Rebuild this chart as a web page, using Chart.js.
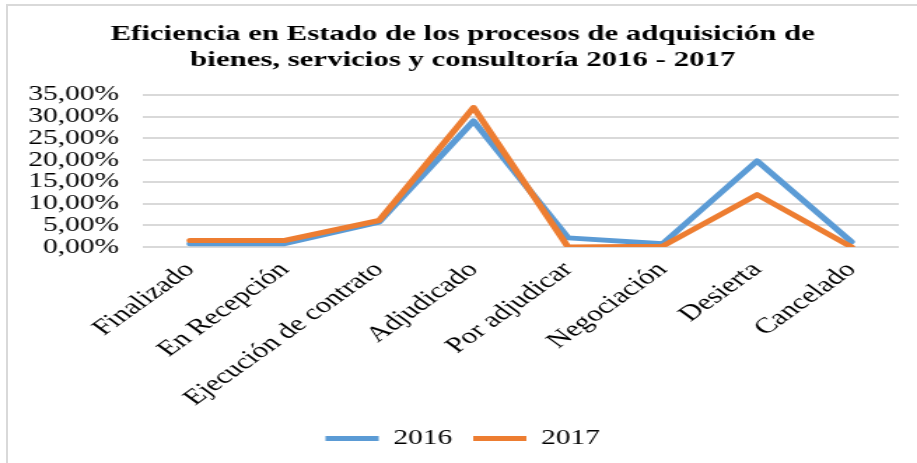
<!DOCTYPE html>
<html lang="es">

<head>
    <meta charset="UTF-8">
    <title>Eficiencia en Estado de los procesos</title>
    <script src="https://cdn.jsdelivr.net/npm/chart.js"></script>
    <style>
        body {
            margin: 0;
            padding: 0;
            background: #ffffff;
        }

        .frame {
            position: relative;
            width: 917px;
            height: 463px;
            overflow: hidden;
        }

        /* light grey edge of the original picture (left and top only) */
        .edge {
            position: absolute;
            left: 6px;
            top: 4px;
            right: -10px;
            bottom: -10px;
            border-left: 2px solid #d9d9d9;
            border-top: 2px solid #d9d9d9;
            pointer-events: none;
        }

        /* the original is stretched sideways, so the canvas is too */
        #lineChart {
            position: absolute;
            left: 0;
            top: 0;
            width: 917px;
            height: 463px;
        }
    </style>
</head>

<body>
    <div class="frame">
        <canvas id="lineChart" width="655" height="463" style="width:917px;height:463px"></canvas>
        <div class="edge"></div>
    </div>

    <script>
        // Data
        const categories = ['Finalizado', 'En Recepción', 'Ejecución de contrato', 'Adjudicado',
            'Por adjudicar', 'Negociación', 'Desierta', 'Cancelado'];
        const values2016 = [0.76, 0.76, 5.7, 29.0, 2.1, 0.75, 19.8, 1.2];
        const values2017 = [1.5, 1.5, 6.1, 32.1, 0.0, 0.2, 12.05, 0.0];
        const seriesNames = ['2016', '2017'];
        const titleLines = ['Eficiencia en Estado de los procesos de adquisición de',
            'bienes, servicios y consultoría 2016 - 2017'];

        const serif = '"Liberation Serif", "Times New Roman", serif';

        // percent with comma decimals, e.g. 35,00%
        function pct(v) {
            return v.toFixed(2).replace('.', ',') + '%';
        }

        const ctx = document.getElementById('lineChart').getContext('2d');
        new Chart(ctx, {
            type: 'line',
            data: {
                labels: categories,
                datasets: [{
                    label: seriesNames[0],
                    data: values2016,
                    borderColor: '#5b9bd5',
                    backgroundColor: '#5b9bd5',
                    borderWidth: 5,
                    pointRadius: 0,
                    tension: 0,
                    borderCapStyle: 'round',
                    borderJoinStyle: 'round',
                    order: 2
                }, {
                    label: seriesNames[1],
                    data: values2017,
                    borderColor: '#ed7d31',
                    backgroundColor: '#ed7d31',
                    borderWidth: 5,
                    pointRadius: 0,
                    tension: 0,
                    borderCapStyle: 'round',
                    borderJoinStyle: 'round',
                    order: 1 // orange drawn on top
                }]
            },
            options: {
                responsive: false,
                animation: false,
                devicePixelRatio: 1,
                layout: {
                    padding: { left: 19, right: 13, top: 0, bottom: 4 }
                },
                plugins: {
                    title: {
                        display: true,
                        text: titleLines,
                        color: '#000000',
                        font: { family: serif, size: 22, weight: 'bold', lineHeight: 1.18 },
                        padding: { top: 21, bottom: 22 }
                    },
                    legend: {
                        position: 'bottom',
                        labels: {
                            usePointStyle: true,
                            pointStyle: 'line',
                            pointStyleWidth: 38,
                            color: '#000000',
                            font: { family: serif, size: 21 },
                            padding: 15,
                            sort: (a, b) => a.datasetIndex - b.datasetIndex
                        }
                    },
                    tooltip: { enabled: false }
                },
                scales: {
                    x: {
                        offset: true,
                        grid: { display: false, drawTicks: false },
                        border: { display: false },
                        ticks: {
                            color: '#000000',
                            font: { family: serif, size: 22 },
                            minRotation: 45,
                            maxRotation: 45,
                            autoSkip: false,
                            padding: 10
                        },
                        afterFit: (scale) => { scale.height = 166; }
                    },
                    y: {
                        min: 0,
                        max: 35,
                        grid: { color: '#d9d9d9', lineWidth: 2, drawTicks: false },
                        border: { display: false },
                        ticks: {
                            stepSize: 5,
                            autoSkip: false,
                            color: '#000000',
                            font: { family: serif, size: 21 },
                            padding: 17,
                            callback: (v) => pct(v)
                        },
                        afterFit: (scale) => { scale.width = 83; }
                    }
                }
            }
        });
    </script>
</body>

</html>
